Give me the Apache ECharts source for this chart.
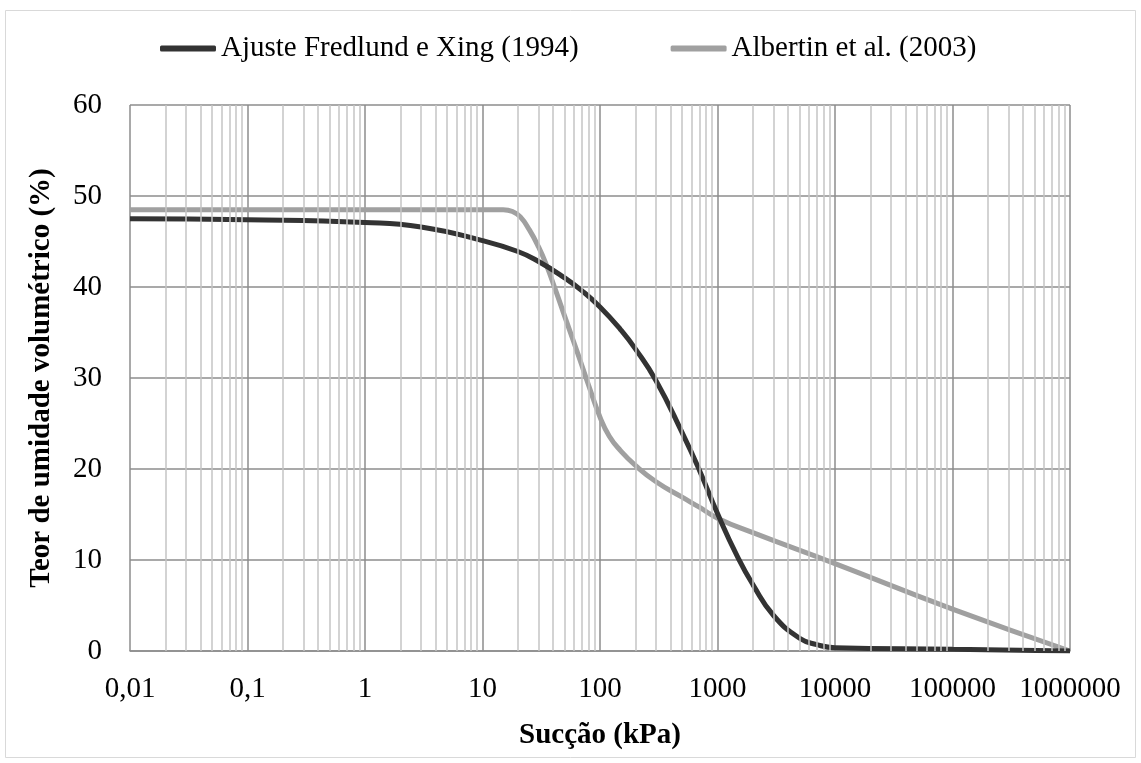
<!DOCTYPE html>
<html>
<head>
<meta charset="utf-8">
<script src="https://cdn.jsdelivr.net/npm/echarts@6/dist/echarts.min.js"></script>
<style>html,body{margin:0;padding:0;background:#fff}#c{width:1141px;height:763px}</style>
</head>
<body>
<div id="c"></div>
<script>
// Series 1: Ajuste Fredlund e Xing (1994)
const fredlundX = [0.01, 0.1, 1, 3, 10, 20, 30, 50, 70, 100, 150, 200, 300, 500, 700, 1000, 1500, 2000, 3000, 5000, 7000, 10000, 100000, 1000000];
const fredlundY = [47.5, 47.4, 47.1, 46.6, 45.1, 43.9, 42.8, 41.0, 39.6, 37.8, 35.3, 33.2, 29.7, 24.0, 19.9, 15.1, 10.2, 7.3, 3.9, 1.4, 0.7, 0.35, 0.2, 0];
// Series 2: Albertin et al. (2003)
const albertinX = [0.01, 1, 10, 15, 18, 21, 25, 30, 35, 42, 50, 60, 70, 80, 100, 120, 150, 200, 300, 500, 700, 1000, 2000, 10000, 100000, 1000000];
const albertinY = [48.5, 48.5, 48.5, 48.5, 48.3, 47.7, 46.3, 44.4, 42.4, 39.6, 36.8, 33.9, 31.4, 29.2, 25.7, 23.6, 22.0, 20.4, 18.6, 16.9, 15.8, 14.6, 13.0, 9.6, 4.6, 0];
const seriesNames = ['Ajuste Fredlund e Xing (1994)', 'Albertin et al. (2003)'];
const xTickLabels = ['0,01', '0,1', '1', '10', '100', '1000', '10000', '100000', '1000000'];
const yTicks = [0, 10, 20, 30, 40, 50, 60];
const xTitle = 'Sucção (kPa)';
const yTitle = 'Teor de umidade volumétrico (%)';

const font = '"Liberation Serif", "Times New Roman", serif';
const fs = 29;
const minorLines = [];
for (let d = -2; d < 6; d++) {
  for (let m = 2; m <= 9; m++) minorLines.push({ xAxis: m * Math.pow(10, d) });
}
const zip = (xs, ys) => xs.map((x, i) => [x, ys[i]]);

const chart = echarts.init(document.getElementById('c'));
chart.setOption({
  animation: false,
  backgroundColor: '#fff',
  graphic: [{
    type: 'rect', shape: { x: 5.5, y: 10.5, width: 1130, height: 747 },
    style: { fill: 'none', stroke: '#d9d9d9', lineWidth: 1 }, silent: true, z: -1
  }],
  legend: {
    top: 29, left: 155,
    itemWidth: 56, itemHeight: 6, itemGap: 92,
    icon: 'roundRect',
    textStyle: { fontFamily: font, fontSize: fs, color: '#000' },
    data: seriesNames
  },
  grid: { left: 130, top: 105, right: 71, bottom: 112, containLabel: false },
  xAxis: {
    type: 'log', logBase: 10, min: 0.01, max: 1000000, splitNumber: 8,
    name: xTitle, nameLocation: 'middle', nameGap: 70,
    nameTextStyle: { fontFamily: font, fontSize: fs, fontWeight: 'bold', color: '#000' },
    axisLine: { show: true, lineStyle: { color: '#8c8c8c', width: 1.5 } },
    axisTick: { show: false },
    axisLabel: {
      fontFamily: font, fontSize: fs, color: '#000', margin: 24,
      formatter: v => xTickLabels[Math.round(Math.log10(v)) + 2]
    },
    splitLine: { show: true, lineStyle: { color: '#8c8c8c', width: 1.5 } }
  },
  yAxis: {
    type: 'value', min: yTicks[0], max: yTicks[yTicks.length - 1], interval: 10,
    name: yTitle, nameLocation: 'middle', nameGap: 74,
    nameTextStyle: { fontFamily: font, fontSize: fs, fontWeight: 'bold', color: '#000' },
    axisLine: { show: false }, axisTick: { show: false },
    axisLabel: { fontFamily: font, fontSize: fs, color: '#000', margin: 28 },
    splitLine: { show: true, lineStyle: { color: '#8c8c8c', width: 1.5 } }
  },
  series: [
    {
      type: 'line', name: '_minor', data: [], z: 1, silent: true,
      markLine: {
        silent: true, symbol: 'none', label: { show: false }, animation: false,
        lineStyle: { color: '#c4c4c4', width: 1.5, type: 'solid' },
        emphasis: { disabled: true },
        data: minorLines
      }
    },
    {
      type: 'line', name: seriesNames[0], data: zip(fredlundX, fredlundY),
      smooth: 0.5, showSymbol: false, z: 4,
      lineStyle: { color: '#333333', width: 5 }, itemStyle: { color: '#333333' }
    },
    {
      type: 'line', name: seriesNames[1], data: zip(albertinX, albertinY),
      smooth: 0.5, showSymbol: false, z: 3,
      lineStyle: { color: '#a0a0a0', width: 5 }, itemStyle: { color: '#a0a0a0' }
    }
  ]
});
</script>
</body>
</html>
